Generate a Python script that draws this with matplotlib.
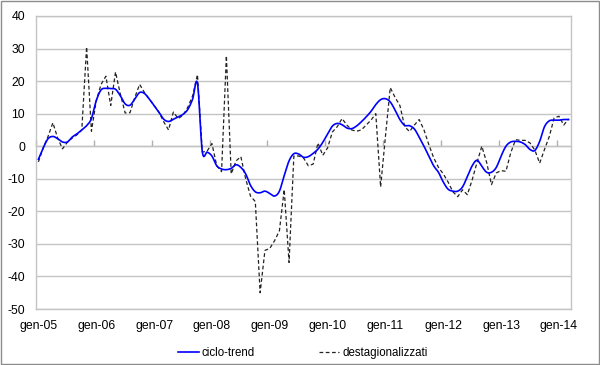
import numpy as np
import matplotlib
matplotlib.use("Agg")
import matplotlib.pyplot as plt
from matplotlib.patches import Rectangle

# Monthly data, Jan 2005 .. Mar 2014
trend = [-4, -0.5, 2.3, 3, 2.3, 1.3, 1.3, 2.8, 3.8, 5, 6.3, 8.5,
         14, 17.3, 17.8, 17.7, 17.5, 15.5, 13, 12.6, 14.5, 16.5, 16.2, 14.5,
         12.5, 10.5, 8.3, 7.6, 8.3, 9, 9.8, 11.3, 14.5, 19.3, -1.6, -1.8,
         -3, -6, -7, -7.2, -6.8, -5.7, -6.5, -8.5, -12, -14, -14.3, -13.8,
         -14.5, -15.3, -13.8, -9, -4.5, -2.3, -2.4, -3.4, -3.2, -2.2, -0.9, 1.2,
         3.8, 6.2, 7, 6.6, 5.6, 5.4, 6.2, 7.5, 9, 10.7, 12.8, 14.3,
         14.6, 13.6, 11.1, 8.2, 6.4, 6.3, 5.3, 2.8, 0, -3, -6, -8,
         -11, -13.2, -13.8, -13.8, -12.5, -9.3, -6, -4.3, -6.2, -8, -8, -6.5,
         -3, 0, 1.3, 1.5, 1.3, 0.5, -1, -1.3, 1.5, 6, 7.8, 8,
         8, 8.2, 8.2]

destag = [-4.8, -0.5, 3, 7.2, 2.5, -0.8, 1.2, 2.5, 3.5, 5, 30.5, 4.6,
          14, 19, 21.5, 12.5, 22.8, 16, 10.2, 10.3, 15, 19, 16.5, 14.5,
          12.5, 10.5, 7.5, 5, 10.5, 8.5, 9.5, 12, 15.5, 22, -1.8, -1.5,
          0.8, -6, -7.8, 27.8, -8.5, -4.5, -3.2, -10, -15.3, -17, -45, -32,
          -31.4, -29, -26, -13.3, -35.7, -3, -3, -3.6, -6, -5.5, 1, -2.8,
          -0.5, 4.4, 6, 8.5, 6.5, 5, 4.6, 5, 6.5, 8, 10, -12.5,
          3, 18, 15, 12.5, 6, 4.5, 6.5, 8.2, 5, 0.5, -3.5, -6.5,
          -8.5, -11, -14, -15.5, -13.4, -14.9, -10.3, -5, 0, -5, -11.8, -8.2,
          -7.5, -7.7, -2, 2, 1.8, 1.8, 1, -1.2, -5.2, -1, 3, 8.7,
          9.2, 6.5, 8.4]

year_labels = ["gen-05", "gen-06", "gen-07", "gen-08", "gen-09",
               "gen-10", "gen-11", "gen-12", "gen-13", "gen-14"]
y_ticks = [40, 30, 20, 10, 0, -10, -20, -30, -40, -50]


def catmull_rom(x, y, n=12):
    x = np.asarray(x, float)
    y = np.asarray(y, float)
    px = np.concatenate([[2 * x[0] - x[1]], x, [2 * x[-1] - x[-2]]])
    py = np.concatenate([[2 * y[0] - y[1]], y, [2 * y[-1] - y[-2]]])
    xs, ys = [], []
    t = np.linspace(0, 1, n, endpoint=False)
    for i in range(1, len(px) - 2):
        p0, p1, p2, p3 = py[i - 1], py[i], py[i + 1], py[i + 2]
        q0, q1, q2, q3 = px[i - 1], px[i], px[i + 1], px[i + 2]
        t2, t3 = t * t, t * t * t
        ys.append(0.5 * (2 * p1 + (-p0 + p2) * t + (2 * p0 - 5 * p1 + 4 * p2 - p3) * t2
                         + (-p0 + 3 * p1 - 3 * p2 + p3) * t3))
        xs.append(0.5 * (2 * q1 + (-q0 + q2) * t + (2 * q0 - 5 * q1 + 4 * q2 - q3) * t2
                         + (-q0 + 3 * q1 - 3 * q2 + q3) * t3))
    xs.append([x[-1]])
    ys.append([y[-1]])
    return np.concatenate(xs), np.concatenate(ys)


plt.rcParams['font.family'] = ['Liberation Sans', 'DejaVu Sans']

fig = plt.figure(figsize=(6.0, 3.65), dpi=100)
ax = fig.add_axes([36 / 600, 1 - 309 / 365, (571 - 36) / 600, (309 - 16) / 365])

idx = np.arange(len(trend))
sx, sy = catmull_rom(idx, trend)
ax.plot(sx, sy, color='#0000ff', lw=1.2, label='ciclo-trend', zorder=4)
ax.plot(idx, destag, color='#222222', lw=0.9, linestyle=(0, (3, 2)),
        label='destagionalizzati', zorder=3)

ax.set_xlim(-0.5, len(trend) - 0.5)
ax.set_ylim(-50, 40)
ax.set_yticks(y_ticks)
ax.set_yticklabels([str(v) for v in y_ticks])
ax.set_xticks(np.arange(len(year_labels)) * 12)
ax.set_xticklabels(year_labels)
ax.tick_params(axis='both', length=0, labelsize=8.8, colors='black')
ax.tick_params(axis='y', pad=8)
ax.tick_params(axis='x', pad=8)

ax.grid(axis='y', color='#c4c4c4', lw=1.0)
ax.set_axisbelow(True)
for s in ax.spines.values():
    s.set_color('#c4c4c4')
    s.set_linewidth(1.0)

# category axis crossing at zero with boundary tick marks
sec = ax.secondary_xaxis(50 / 90)
sec.set_xticks(np.arange(len(year_labels)) * 12 - 0.5)
sec.set_xticklabels([])
sec.tick_params(axis='x', direction='out', length=4, width=1, color='#b0b0b0')
sec.spines['bottom'].set_color('#c4c4c4')
sec.spines['bottom'].set_linewidth(1.0)

fig.legend(loc='center', bbox_to_anchor=(0.505, 0.033), ncol=2, frameon=False,
           fontsize=8.3, handlelength=1.75, handletextpad=0.25, columnspacing=5.6)

fig.patches.append(Rectangle((0.001, 0.002), 0.997, 0.996, transform=fig.transFigure,
                             fill=False, edgecolor='#8c8c8c', lw=1.0))

fig.savefig('out.png', dpi=100)
